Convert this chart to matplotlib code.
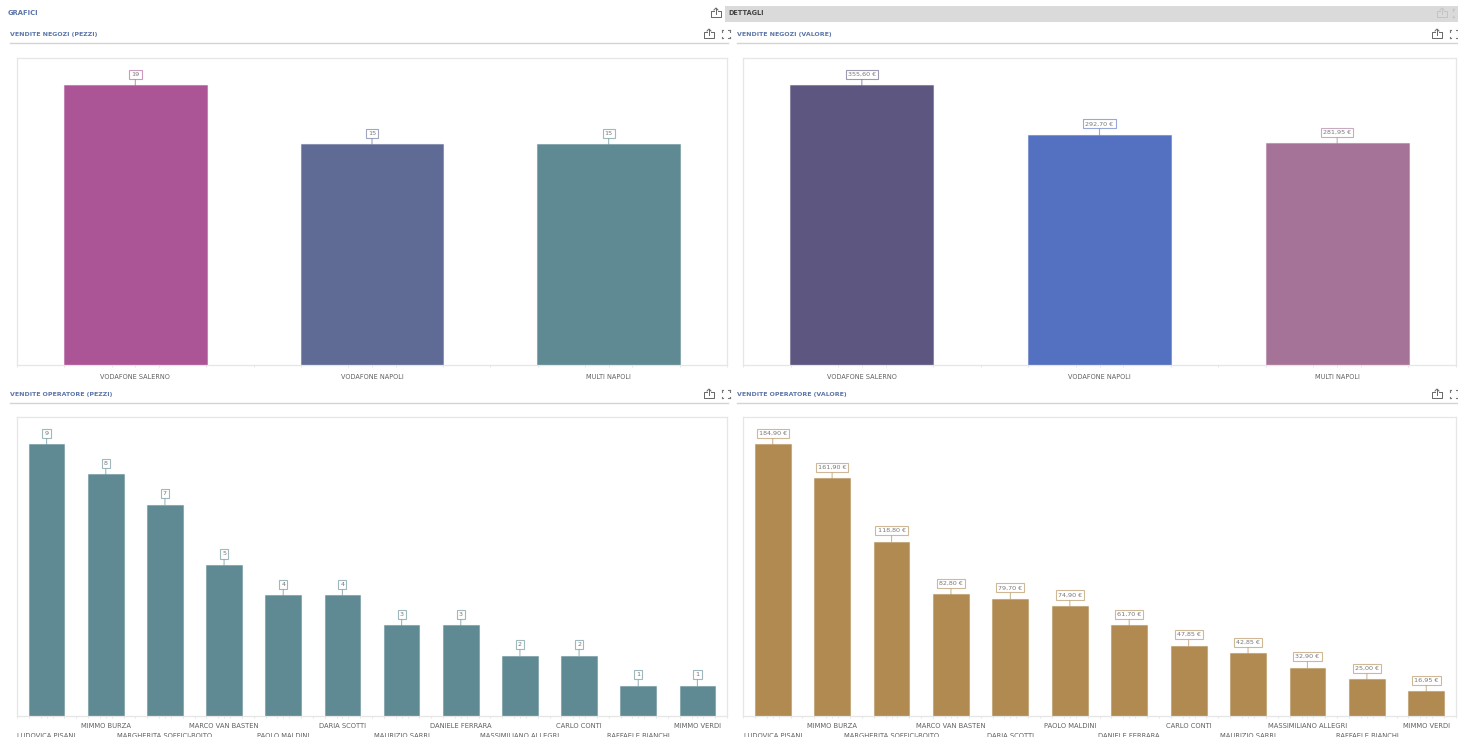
import matplotlib
matplotlib.use("Agg")
import matplotlib.pyplot as plt
from matplotlib.colors import to_rgba

W, H = 1458, 737
plt.rcParams['font.family'] = ['DejaVu Sans']

stores = ["VODAFONE SALERNO", "VODAFONE NAPOLI", "MULTI NAPOLI"]
store_pieces = [19, 15, 15]
store_value = [355.60, 292.70, 281.95]
store_pieces_colors = ["#AB5596", "#5F6B95", "#5F8A93"]
store_value_colors = ["#5C5680", "#5470C0", "#A67398"]

ops_pieces_names = ["LUDOVICA PISANI", "MIMMO BURZA", "MARGHERITA SOFFICI-BOITO", "MARCO VAN BASTEN",
                    "PAOLO MALDINI", "DARIA SCOTTI", "MAURIZIO SARRI", "DANIELE FERRARA",
                    "MASSIMILIANO ALLEGRI", "CARLO CONTI", "RAFFAELE BIANCHI", "MIMMO VERDI"]
ops_pieces = [9, 8, 7, 5, 4, 4, 3, 3, 2, 2, 1, 1]
ops_value_names = ["LUDOVICA PISANI", "MIMMO BURZA", "MARGHERITA SOFFICI-BOITO", "MARCO VAN BASTEN",
                   "DARIA SCOTTI", "PAOLO MALDINI", "DANIELE FERRARA", "CARLO CONTI",
                   "MAURIZIO SARRI", "MASSIMILIANO ALLEGRI", "RAFFAELE BIANCHI", "MIMMO VERDI"]
ops_value = [184.90, 161.90, 118.80, 82.80, 79.70, 74.90, 61.70, 47.85, 42.85, 32.90, 25.00, 16.95]
TEAL = "#5F8A93"
TAN = "#B08A50"


def euro(v):
    return f"{v:.2f}".replace(".", ",") + " €"


fig = plt.figure(figsize=(W / 100, H / 100), dpi=100, facecolor="white")


def panel(box, names, vals, colors, ymax, fmt, stagger):
    x0, y0, x1, y1 = box
    ax = fig.add_axes([x0 / W, 1 - y1 / H, (x1 - x0) / W, (y1 - y0) / H])
    n = len(vals)
    ax.bar(range(n), vals, width=0.603, color=colors, linewidth=0.8,
           edgecolor=[to_rgba(c, 0.45) for c in colors])
    ax.set_xlim(-0.5, n - 0.5)
    ax.set_ylim(0, ymax)
    ax.set_yticks([])
    for s in ax.spines.values():
        s.set_color("#E6E6E6")
        s.set_linewidth(0.9)
    ax.set_xticks(range(n))
    ax.set_xticklabels(names, fontsize=4.9 if stagger else 4.7, color="#606060")
    ax.set_xticks([-0.5 + 0.2 * k for k in range(5 * n + 1)], minor=True)
    ax.tick_params(axis="x", which="both", length=1.6, width=0.5, color="#DADADA")
    for i, t in enumerate(ax.xaxis.get_major_ticks()):
        t.set_pad(5.0 if not stagger else (10.3 if i % 2 == 0 else 3.7))
    for i, v in enumerate(vals):
        ec = to_rgba(colors[i], 0.6)
        ax.annotate(fmt(v), xy=(i, v), xytext=(0, 11), textcoords="offset pixels",
                    ha="center", va="center", fontsize=4.6, color="#777777",
                    bbox=dict(boxstyle="square,pad=0.32", fc="white", ec=ec, lw=0.8),
                    arrowprops=dict(arrowstyle="-", color=ec, lw=0.8, shrinkA=0, shrinkB=0))
    return ax


panel((17, 58, 727, 365), stores, store_pieces, store_pieces_colors, 20.85, str, False)
panel((743, 58, 1456, 365), stores, store_value, store_value_colors, 390.5, euro, False)
panel((17, 417, 727, 716), ops_pieces_names, ops_pieces, [TEAL] * 12, 9.9, str, True)
panel((743, 417, 1456, 716), ops_value_names, ops_value, [TAN] * 12, 203.6, euro, True)

# page chrome drawn in pixel coordinates
ov = fig.add_axes([0, 0, 1, 1], facecolor="none", zorder=5)
ov.set_xlim(0, W)
ov.set_ylim(H, 0)
ov.axis("off")
ov.fill_between([725, W], 6, 22, color="#DADADA", lw=0)
ov.text(8, 12.5, "GRAFICI", fontsize=4.9, weight="bold", color="#5B75A8", va="center")
ov.text(728, 12.5, "DETTAGLI", fontsize=4.7, weight="bold", color="#444444", va="center")

headers = [(10, 34.5, "VENDITE NEGOZI (PEZZI)"), (737, 34.5, "VENDITE NEGOZI (VALORE)"),
           (10, 394, "VENDITE OPERATORE (PEZZI)"), (737, 394, "VENDITE OPERATORE (VALORE)")]
for x, y, s in headers:
    ov.text(x, y, s, fontsize=4.5, weight="bold", color="#5B75A8", va="center")
for y in (43, 403):
    ov.plot([10, 728], [y, y], color="#D4D4D4", lw=1.0)
    ov.plot([737, W], [y, y], color="#D4D4D4", lw=1.0)


def share(cx, cy, color="#666666"):
    ov.plot([cx - 2, cx - 5, cx - 5, cx + 5, cx + 5, cx + 2],
            [cy - 2, cy - 2, cy + 4, cy + 4, cy - 2, cy - 2], color=color, lw=0.7)
    ov.plot([cx, cx], [cy + 1, cy - 5], color=color, lw=0.7)
    ov.plot([cx - 2, cx, cx + 2], [cy - 3, cy - 5, cy - 3], color=color, lw=0.7)


def expand(cx, cy, color="#777777"):
    for sx in (-1, 1):
        for sy in (-1, 1):
            ov.plot([cx + sx * 4, cx + sx * 2.5], [cy + sy * 4, cy + sy * 4], color=color, lw=0.8)
            ov.plot([cx + sx * 4, cx + sx * 4], [cy + sy * 4, cy + sy * 2.5], color=color, lw=0.8)


share(716, 13)
share(1442, 13, "#C4C4C4")
expand(1457, 13, "#C4C4C4")
for y in (34, 394):
    share(709, y)
    expand(726, y)
    share(1437, y)
    expand(1454, y)

fig.savefig("out.png", dpi=100)
